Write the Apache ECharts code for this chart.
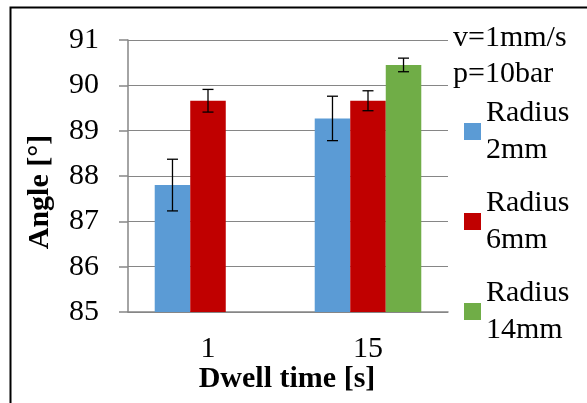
<!DOCTYPE html>
<html style="height: 100%">
   <head>
       <meta charset="utf-8">
   </head>
   <body style="height: 100%; margin: 0; background: #fff">
       <div id="container" style="width: 587px; height: 403px"></div>
       <script type="text/javascript" src="https://cdn.jsdelivr.net/npm/echarts@6/dist/echarts.min.js"></script>
       <script type="text/javascript">
var dom = document.getElementById("container");
var myChart = echarts.init(dom);

var categories = ['1', '15'];
var seriesNames = ['Radius\n2mm', 'Radius\n6mm', 'Radius\n14mm'];
var colors = ['#5B9BD5', '#C00000', '#70AD47'];
var r2 = [87.80, 89.27];
var r6 = [89.66, 89.66];
var r14 = [null, 90.45];
var r2err = [0.57, 0.49];
var r6err = [0.25, 0.22];
var r14err = [null, 0.15];
var yTicks = [85, 86, 87, 88, 89, 90, 91];

var font = '"Liberation Serif", serif';
var gap = 0.334;   // barCategoryGap

function errData(vals, errs) {
    var out = [];
    for (var i = 0; i < vals.length; i++) {
        if (vals[i] == null) continue;
        out.push([i, vals[i] - errs[i], vals[i] + errs[i]]);
    }
    return out;
}

// error bars sit on the centre of the k-th bar in each group
function errRender(k) {
    return function (params, api) {
        var band = api.size([1, 0])[0];
        var bw = band * (1 - gap) / 3;
        var top = api.coord([api.value(0), api.value(2)]);
        var bot = api.coord([api.value(0), api.value(1)]);
        var x = top[0] + (k - 1) * bw;
        var st = {stroke: '#000', lineWidth: 1.3};
        return {
            type: 'group',
            children: [
                {type: 'line', shape: {x1: x, y1: top[1], x2: x, y2: bot[1]}, style: st},
                {type: 'line', shape: {x1: x - 5.5, y1: top[1], x2: x + 5.5, y2: top[1]}, style: st},
                {type: 'line', shape: {x1: x - 5.5, y1: bot[1], x2: x + 5.5, y2: bot[1]}, style: st}
            ]
        };
    };
}

var barVals = [r2, r6, r14];
var errVals = [r2err, r6err, r14err];
var series = [];
for (var s = 0; s < 3; s++) {
    series.push({
        name: seriesNames[s],
        type: 'bar',
        barGap: 0,
        barCategoryGap: (gap * 100) + '%',
        itemStyle: {color: colors[s]},
        data: barVals[s].map(function (v) { return v == null ? '-' : v; })
    });
}
for (var s = 0; s < 3; s++) {
    series.push({
        type: 'custom',
        renderItem: errRender(s),
        data: errData(barVals[s], errVals[s]),
        z: 5,
        silent: true
    });
}

var option = {
    animation: false,
    textStyle: {fontFamily: font},
    grid: {left: 128, right: 139, top: 40, bottom: 91},
    legend: {
        orient: 'vertical',
        left: 464,
        top: 76,
        padding: 0,
        itemGap: -21,
        itemWidth: 17,
        itemHeight: 17,
        icon: 'rect',
        data: seriesNames,
        textStyle: {fontFamily: font, fontSize: 30, color: '#000', lineHeight: 37, padding: [37, 0, 0, 0]},
        selectedMode: false
    },
    xAxis: {
        type: 'category',
        data: categories,
        axisLine: {lineStyle: {color: '#868686', width: 1.5}},
        axisTick: {length: 10, lineStyle: {color: '#868686', width: 1.5}},
        axisLabel: {fontFamily: font, fontSize: 30, color: '#000', margin: 22}
    },
    yAxis: {
        type: 'value',
        min: yTicks[0],
        max: yTicks[yTicks.length - 1],
        interval: 1,
        axisLine: {show: true, lineStyle: {color: '#868686', width: 1.5}},
        axisTick: {show: true, length: 9, lineStyle: {color: '#868686', width: 1.5}},
        splitLine: {lineStyle: {color: '#868686', width: 1.2}},
        axisLabel: {fontFamily: font, fontSize: 30, color: '#000', margin: 29}
    },
    graphic: [
        {type: 'rect', left: 8, top: 5, shape: {width: 600, height: 420}, style: {fill: null, stroke: '#000', lineWidth: 2}, silent: true},
        {type: 'text', x: 453, y: 20, style: {text: 'v=1mm/s\np=10bar', font: '30px "Liberation Serif"', fill: '#000', lineHeight: 36}},
        {type: 'text', x: 40, y: 192, rotation: Math.PI / 2, style: {text: 'Angle [°]', font: 'bold 30px "Liberation Serif"', fill: '#000', align: 'center', verticalAlign: 'middle'}},
        {type: 'text', x: 287, y: 379, style: {text: 'Dwell time [s]', font: 'bold 30px "Liberation Serif"', fill: '#000', align: 'center', verticalAlign: 'middle'}}
    ],
    series: series
};

myChart.setOption(option, true);
       </script>
   </body>
</html>
